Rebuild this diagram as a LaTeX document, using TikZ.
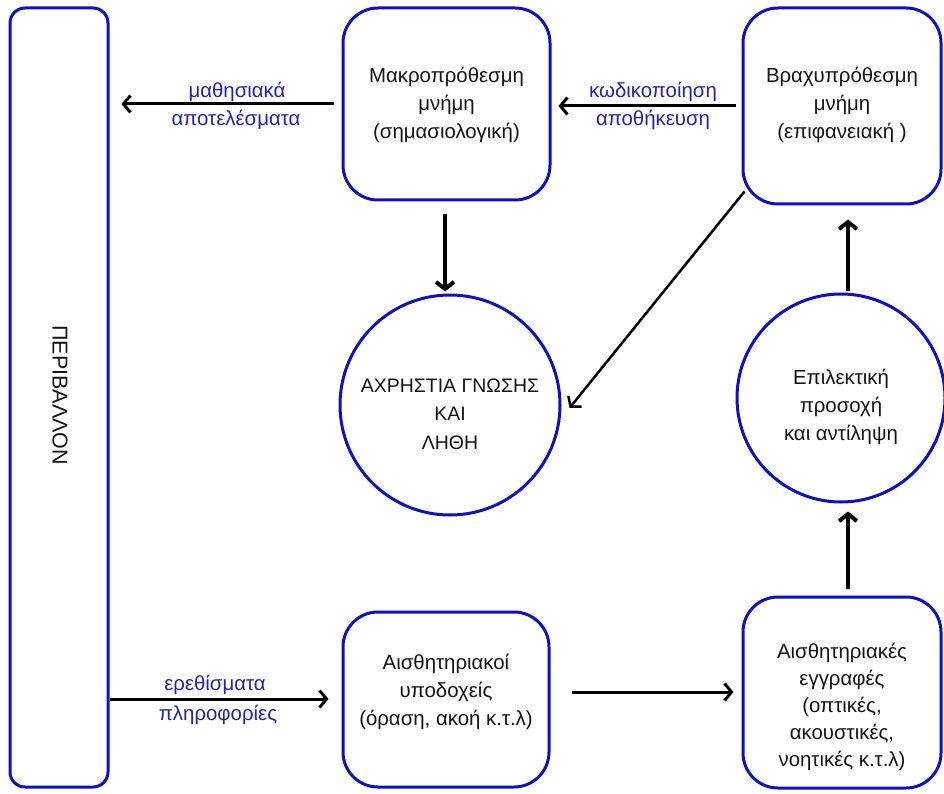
\documentclass[tikz,border=0pt]{standalone}
\usepackage{fontspec}
\setmainfont{Liberation Sans}
\usetikzlibrary{arrows.meta,calc}
\definecolor{boxblue}{RGB}{15,15,195}
\definecolor{labelblue}{RGB}{35,35,175}
\definecolor{inkgray}{RGB}{20,20,20}
\begin{document}
\begin{tikzpicture}[x=1pt,y=-1pt,
  font=\fontsize{20.4}{28}\selectfont,
  box/.style={draw=boxblue, line width=3pt, rounded corners=35pt, inner sep=0pt},
  ring/.style={draw=boxblue, line width=3pt, circle, inner sep=0pt},
  txt/.style={text=inkgray, align=center, inner sep=0pt},
  lbl/.style={text=labelblue, align=center, inner sep=0pt},
  arr/.style={-{Straight Barb[length=7pt,width=17pt]}, line width=3pt, draw=black},
  uparr/.style={-{Straight Barb[length=7pt,width=18pt]}, line width=4pt, draw=black}]
\useasboundingbox (0,0) rectangle (944,794);

% environment column
\node[box, rounded corners=15pt, minimum width=98pt, minimum height=779pt] (env) at (59,397.5) {};
\node[txt, rotate=-90, font=\fontsize{21.5}{28}\selectfont] (envtxt) at (60,395) {ΠΕΡΙΒΑΛΛΟΝ};

% memory stores
\node[box, minimum width=207pt, minimum height=192pt] (macro) at (446.5,104) {};
\node[txt] (macrotxt) at (446.5,105) {Μακροπρόθεσμη\\μνήμη\\(σημασιολογική)};

\node[box, minimum width=198pt, minimum height=196pt] (bracho) at (842,106) {};
\node[txt] (brachotxt) at (842,105) {Βραχυπρόθεσμη\\μνήμη\\(επιφανειακή )};

% sensory stages
\node[box, minimum width=206pt, minimum height=175pt] (recept) at (446,699.5) {};
\node[txt] (recepttxt) at (446,692) {Αισθητηριακοί\\υποδοχείς\\(όραση, ακοή κ.τ.λ)};

\node[box, minimum width=198pt, minimum height=191pt] (eggr) at (842,692.5) {};
\node[txt, font=\fontsize{20.4}{27}\selectfont] (eggrtxt) at (842,707) {Αισθητηριακές\\εγγραφές\\(οπτικές,\\ακουστικές,\\νοητικές κ.τ.λ)};

% circles
\node[ring, minimum size=220pt] (useless) at (450,405) {};
\node[txt, font=\fontsize{19.5}{28.5}\selectfont] (uselesstxt) at (450,414) {ΑΧΡΗΣΤΙΑ ΓΝΩΣΗΣ\\ΚΑΙ\\ΛΗΘΗ};

\node[ring, minimum size=208pt] (attn) at (841,398) {};
\node[txt] (attntxt) at (841,407) {Επιλεκτική\\προσοχή\\και αντίληψη};

% connectors
\draw[arr, shorten <=8pt, shorten >=12pt] (macro.west) -- (env.east |- macro.west);
\draw[arr, shorten <=6pt, shorten >=7pt] (bracho.west) -- (macro.east |- bracho.west);
\draw[arr, shorten >=13pt] (env.east |- 0,699) coordinate (envout) -- (recept.west |- envout);
\draw[arr, shorten <=21pt, shorten >=8pt] (recept.east |- 0,692) coordinate (recout) -- (eggr.west |- recout);
\draw[uparr, shorten <=13pt, shorten >=2pt] ([xshift=-1.5pt]macro.south) -- ([xshift=-1.5pt]macro.south |- useless.north);
\draw[arr, line width=2.5pt] ($(bracho.south west)+(3,-14)$) -- ($(useless.east)+(8,3)$);
\draw[uparr, shorten <=2pt, shorten >=14pt] ([xshift=7pt]attn.north) -- ([xshift=7pt]attn.north |- bracho.south);
\draw[uparr, shorten <=7pt, shorten >=8pt] ([xshift=6pt]eggr.north) -- ([xshift=6pt]eggr.north |- attn.south);

% connector labels
\node[lbl] (lblout1) at (237,92) {μαθησιακά};
\node[lbl] (lblout2) at (236,120) {αποτελέσματα};
\node[lbl] (lblcode1) at (653,92) {κωδικοποίηση};
\node[lbl] (lblcode2) at (653,120) {αποθήκευση};
\node[lbl] (lblin1) at (215,685) {ερεθίσματα};
\node[lbl] (lblin2) at (218,715) {πληροφορίες};
\end{tikzpicture}
\end{document}
